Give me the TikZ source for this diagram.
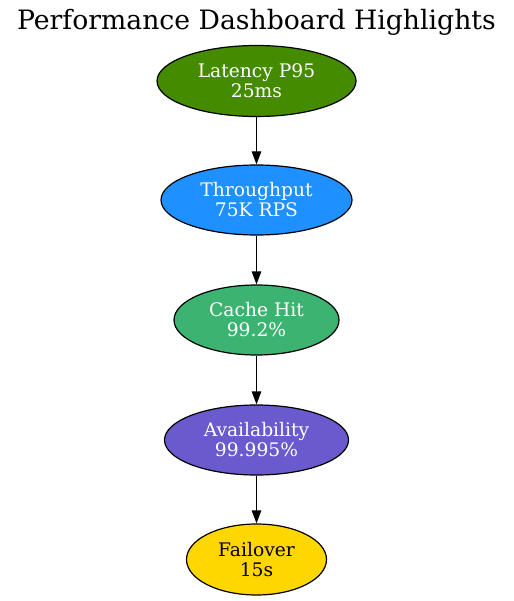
\documentclass[tikz,border=0pt]{standalone}
\usepackage{fontspec}
\setmainfont{DejaVu Serif}
\usetikzlibrary{shapes.geometric,arrows.meta}
\definecolor{cLat}{HTML}{458B00}
\definecolor{cThr}{HTML}{1E90FF}
\definecolor{cCache}{HTML}{3CB371}
\definecolor{cAvail}{HTML}{6A5ACD}
\definecolor{cFail}{HTML}{FFD700}
\newcommand\nodefnt{\fontsize{18.67}{20}\selectfont}
\tikzset{
  metric/.style={ellipse, draw=black, line width=1.2pt, inner sep=0pt, align=center,
    text=white, font=\nodefnt},
  link/.style={draw=black, line width=1.2pt, -{Triangle[length=13pt,width=9.5pt]}},
}
\begin{document}
\begin{tikzpicture}[x=1pt,y=-1pt]
\useasboundingbox (0,0) rectangle (513,601);
\node[font=\fontsize{26.67}{30}\selectfont] (title) at (256.5,22) {Performance Dashboard Highlights};
\node[metric, fill=cLat, minimum width=199pt, minimum height=71pt] (lat) at (256.5,81) {\nodefnt Latency P95\\\nodefnt 25ms};
\node[metric, fill=cThr, minimum width=191pt, minimum height=70pt] (thr) at (256.5,200) {\nodefnt Throughput\\\nodefnt 75K RPS};
\node[metric, fill=cCache, minimum width=165pt, minimum height=70pt] (cache) at (256.5,320) {\nodefnt Cache Hit\\\nodefnt 99.2\%};
\node[metric, fill=cAvail, minimum width=184pt, minimum height=70pt] (avail) at (256.5,440) {\nodefnt Availability\\\nodefnt 99.995\%};
\node[metric, fill=cFail, text=black, minimum width=140pt, minimum height=71pt] (fail) at (256.5,559.5) {\nodefnt Failover\\\nodefnt 15s};
\draw[link] (lat) -- (thr);
\draw[link] (thr) -- (cache);
\draw[link] (cache) -- (avail);
\draw[link] (avail) -- (fail);
\end{tikzpicture}
\end{document}
